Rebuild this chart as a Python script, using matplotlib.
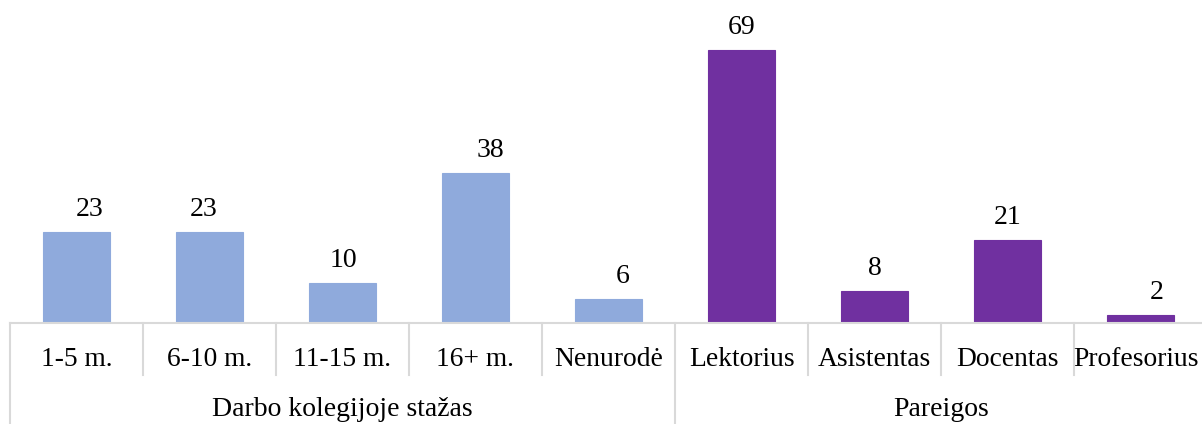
import matplotlib
matplotlib.use("Agg")
import matplotlib.pyplot as plt
from matplotlib.transforms import blended_transform_factory, offset_copy

categories = ["1-5 m.", "6-10 m.", "11-15 m.", "16+ m.", "Nenurodė",
              "Lektorius", "Asistentas", "Docentas", "Profesorius"]
values = [23, 23, 10, 38, 6, 69, 8, 21, 2]
groups = ["Darbo kolegijoje stažas", "Pareigos"]
group_sizes = [5, 4]
group_colors = ["#8FAADC", "#7030A0"]
label_dx = [13, -6, 1, 15, 14, 0, 0, 0, 16]  # px nudges of value labels

plt.rcParams['font.family'] = ['Liberation Serif', 'DejaVu Serif']
W, H = 1202, 424
fig = plt.figure(figsize=(W / 100, H / 100), dpi=100)
base_y = 323
step = 133
n = len(categories)
ax = fig.add_axes([10 / W, (H - base_y) / H, n * step / W, base_y / H])

colors = []
for g, s in enumerate(group_sizes):
    colors += [group_colors[g]] * s
xs = list(range(n))
ax.bar(xs, values, width=0.5, color=colors, edgecolor=colors, linewidth=0.8)
ax.set_xlim(-0.5, n - 0.5)
ax.set_ylim(0, 81.6)
ax.axis('off')

for i, v in enumerate(values):
    t = offset_copy(ax.transData, fig=fig, x=label_dx[i], y=10, units='dots')
    ax.text(xs[i], v, str(v), transform=t, ha='center', va='bottom', fontsize=20)

sep = "#D9D9D9"
trans = blended_transform_factory(ax.transData, fig.transFigure)
ax.plot([-0.5, n - 0.5], [0, 0], color=sep, lw=1.5, clip_on=False)
cat_texts = []
for i, c in enumerate(categories):
    cat_texts.append(ax.text(xs[i], (H - 360) / H, c, transform=trans,
                             ha='center', va='center', fontsize=19.8))
bounds = [-0.5]
acc = -0.5
for s in group_sizes:
    acc += s
    bounds.append(acc)
for k in range(n + 1):
    x = k - 0.5
    if x in bounds:
        if x == n - 0.5:
            continue
        y1 = 0.0
    else:
        y1 = (H - 375) / H
    ax.plot([x, x], [(H - base_y) / H, y1], color=sep, lw=1.5, transform=trans, clip_on=False)
start = 0
for g, s in zip(groups, group_sizes):
    mid = start + (s - 1) / 2
    ax.text(mid, (H - 410) / H, g, transform=trans, ha='center', va='center', fontsize=20)
    start += s

# keep labels that run past the right edge inside the figure
fig.canvas.draw()
r = fig.canvas.get_renderer()
for t in cat_texts:
    bb = t.get_window_extent(r)
    if bb.x1 > W - 3:
        shift = bb.x1 - (W - 3)
        t.set_transform(offset_copy(trans, fig=fig, x=-shift, y=0, units='dots'))

fig.savefig("out.png", dpi=100)
